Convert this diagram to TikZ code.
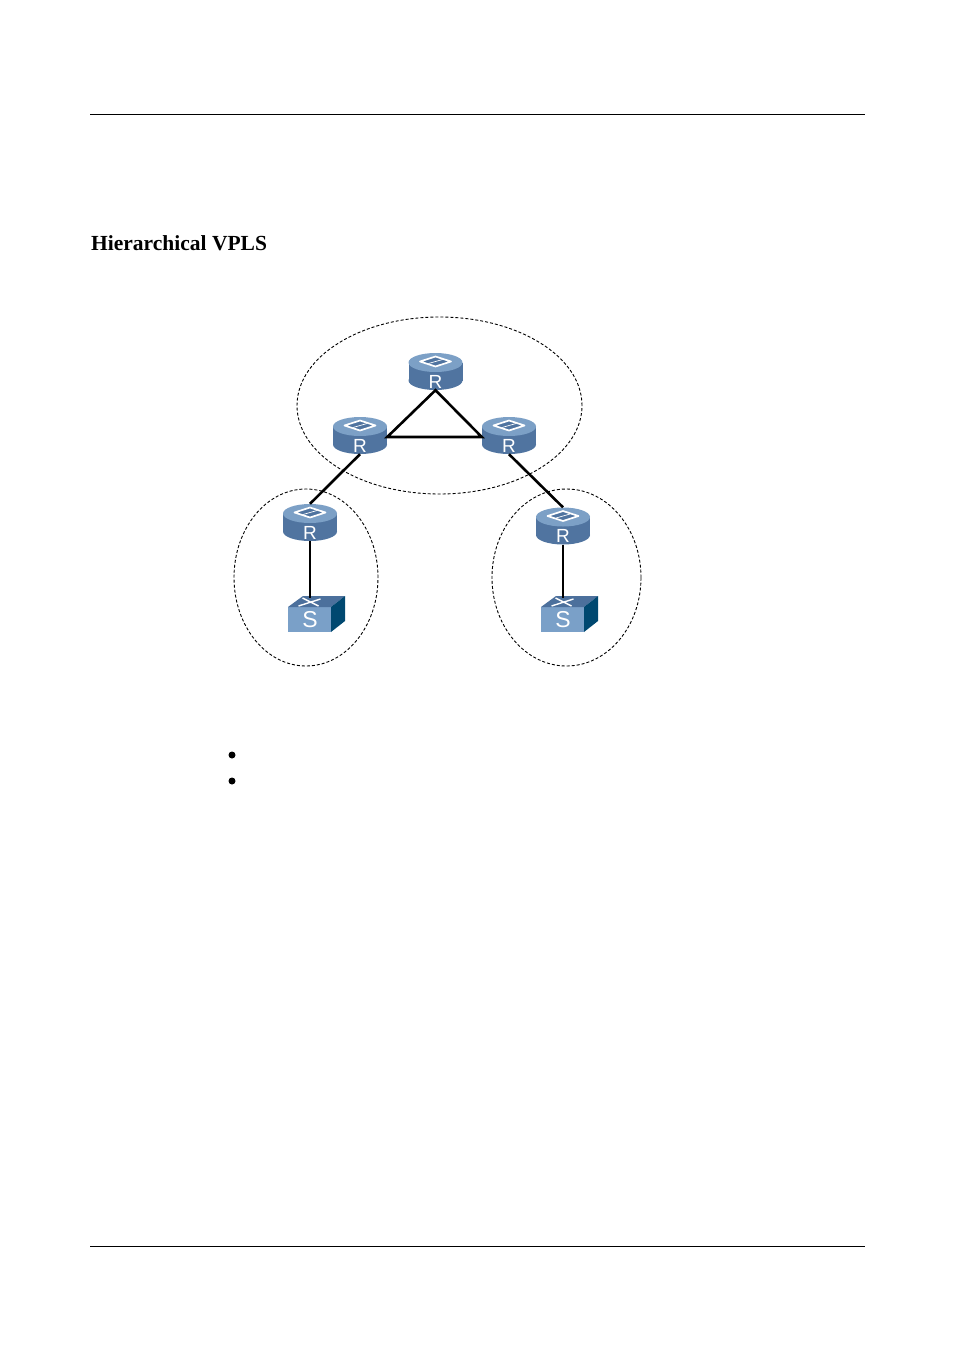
\documentclass[tikz,border=0pt]{standalone}
\usepackage{xcolor}
\usepackage{fontspec}
\setmainfont{Liberation Serif}
\setsansfont{Liberation Sans}
\usetikzlibrary{shapes.geometric}
\definecolor{routertop}{RGB}{124,160,198}
\definecolor{routerbody}{RGB}{80,116,160}
\definecolor{switchfront}{RGB}{122,160,200}
\definecolor{switchtop}{RGB}{76,112,156}
\definecolor{switchside}{RGB}{0,72,112}
\tikzset{
    ring/.style={draw, ellipse, dashed, dash pattern=on 3pt off 2pt, line width=0.9pt, inner sep=0pt},
    routerbox/.style={inner sep=0pt, text=white, font=\sffamily\fontsize{19}{19}\selectfont, text width=54pt, align=center, text height=35pt, text depth=2pt},
    switchbox/.style={inner sep=0pt, text=white, font=\sffamily\fontsize{23}{23}\selectfont, text width=43pt, align=center, text height=31pt, text depth=5pt},
    link/.style={line width=2.6pt, black},
    routericon/.pic={
        \fill[routerbody] (0,9) ellipse [x radius=27, y radius=9.5];
        \fill[routerbody] (-27,-9) rectangle (27,9);
        \fill[routertop] (0,-9) ellipse [x radius=27, y radius=9.5];
        \draw[white, line width=1.7pt, fill=routerbody, line join=round] (-15.5,-10) -- (0,-15) -- (15.5,-10) -- (0,-5) -- cycle;
        \draw[white, line width=0.7pt] (-7,-8) -- (7,-12);
    },
    switchicon/.pic={
        \fill[switchfront] (-21.5,-7) rectangle (21.5,18);
        \fill[switchtop] (-21.5,-7) -- (21.5,-7) -- (35.5,-18) -- (-6.5,-18) -- cycle;
        \fill[switchside] (21.5,-7) -- (35.5,-18) -- (35.5,7) -- (21.5,18) -- cycle;
        \draw[white, line width=1.4pt] (-11,-8) -- (11,-15) (-7,-16) -- (9,-8);
    }
}

\begin{document}
\begin{tikzpicture}[x=1pt,y=-1pt]
    \useasboundingbox (0,0) rectangle (954,1350);

    % Page rules and heading
    \draw[line width=0.8pt] (90,114) -- (865,114);
    \draw[line width=0.8pt] (90,1246) -- (865,1246);
    \node[anchor=base west, inner sep=0pt, font=\bfseries\fontsize{21.5}{21.5}\selectfont] (heading) at (91,250) {Hierarchical VPLS};

    % Dashed rings
    \node[ring, minimum width=285pt, minimum height=177pt] (corering) at (439.5,405.5) {};
    \node[ring, minimum width=144pt, minimum height=177pt] (leftring) at (306,577.5) {};
    \node[ring, minimum width=149pt, minimum height=177pt] (rightring) at (566.5,577.5) {};

    % Routers
    \foreach \nm/\cx/\cy in {rtop/435.5/371.5, rleft/360/435.5, rright/509/435.5, rlowleft/310/522.5, rlowright/563/526} {
        \pic at (\cx,\cy) {routericon};
        \node[routerbox] (\nm) at (\cx,\cy) {R};
    }

    % Switches
    \foreach \nm/\cx in {sleft/310, sright/563} {
        \pic at ([xshift=-0.5pt]\cx,614) {switchicon};
        \node[switchbox] (\nm) at (\cx,614) {S};
    }

    % Links
    \draw[link] (rtop.south) -- ([yshift=-1.5pt]rleft.east) -- ([yshift=-1.5pt]rright.west) -- cycle;
    \draw[link] (rleft.south) -- (rlowleft.north);
    \draw[link] (rright.south) -- (rlowright.north);
    \draw[link] (rlowleft.south) -- ([yshift=-2pt]sleft.north);
    \draw[link] (rlowright.south) -- ([yshift=-2pt]sright.north);

    % Bullets
    \node[circle, fill=black, inner sep=0pt, minimum size=7pt] (bulletone) at (232,755) {};
    \node[circle, fill=black, inner sep=0pt, minimum size=7pt] (bullettwo) at (232,781) {};
\end{tikzpicture}
\end{document}
